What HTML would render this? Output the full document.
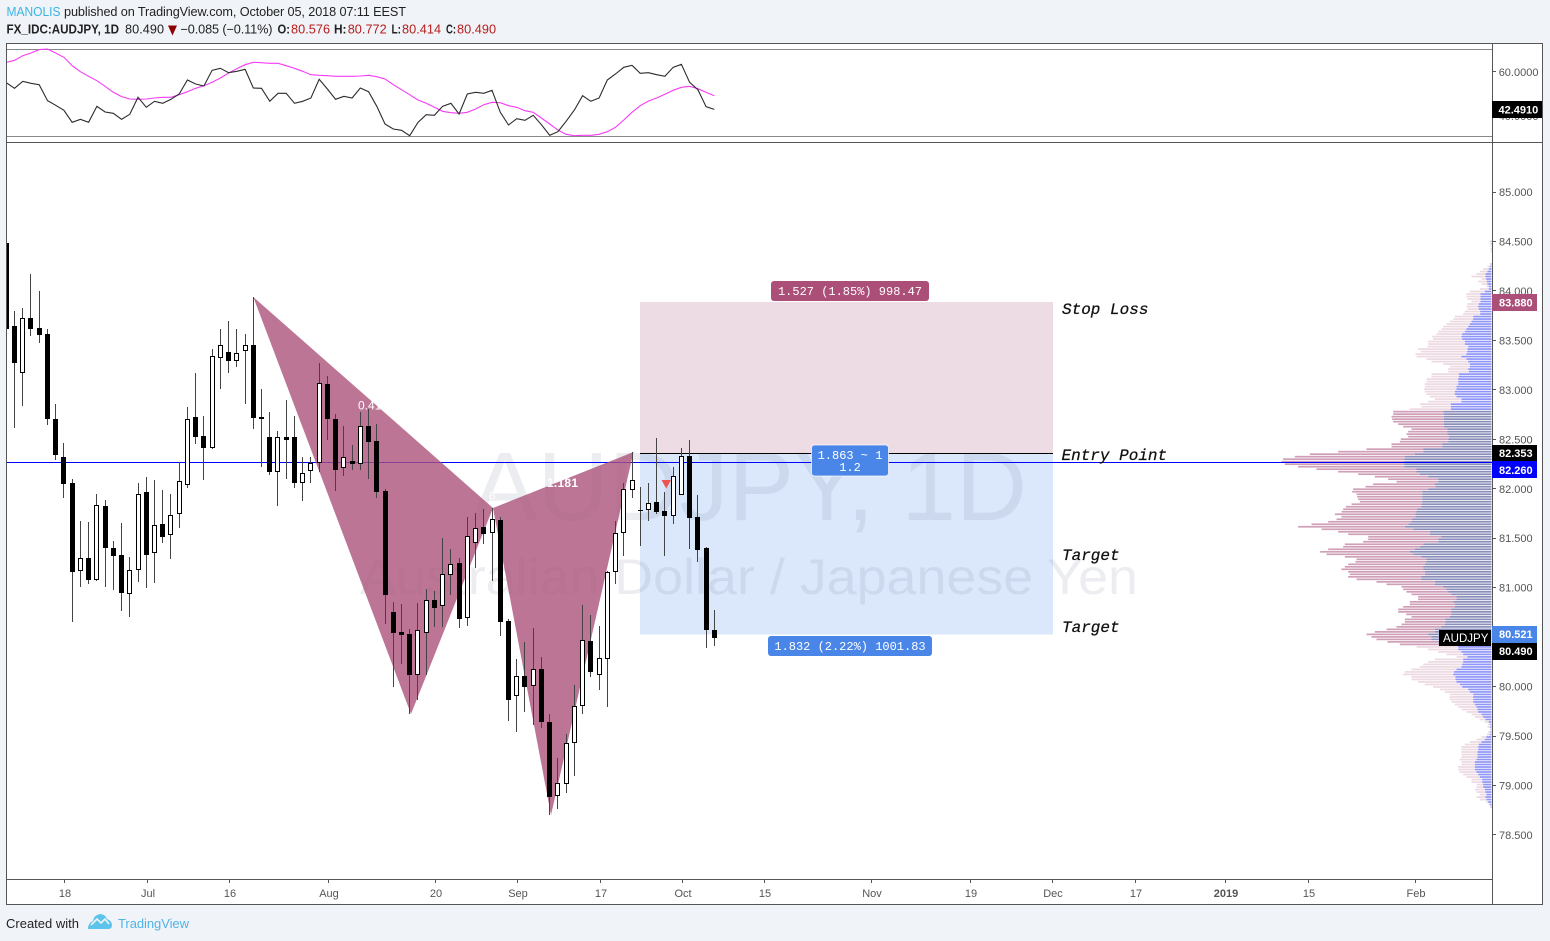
<!DOCTYPE html>
<html lang="en">
<head>
<meta charset="utf-8">
<title>AUDJPY 1D chart</title>
<style>
html,body{margin:0;padding:0;background:#f0f3f7;}
body{width:1550px;height:941px;overflow:hidden;}
svg{display:block;font-family:"Liberation Sans",Arial,sans-serif;}
.hd{font-size:12.7px;fill:#222;}
.num{fill:#b71c1c;}
.b{font-weight:bold;}
.rr{font-family:"Liberation Mono",monospace;font-size:12px;fill:#fff;text-anchor:middle;}
.note{font-family:"Liberation Mono",monospace;font-size:16px;font-style:italic;fill:#111;stroke:#111;stroke-width:0.25;}
.tick{font-size:11px;fill:#555;}
.tag{font-size:11px;font-weight:bold;fill:#fff;}
</style>
</head>
<body>
<svg id="chart" width="1550" height="941" viewBox="0 0 1550 941" xmlns="http://www.w3.org/2000/svg">
  <defs>
    <clipPath id="mainClip"><rect x="7" y="143" width="1485" height="736"/></clipPath>
    <clipPath id="rsiClip"><rect x="7" y="44" width="1485" height="98"/></clipPath>
  </defs>

  <rect x="0" y="0" width="1550" height="941" fill="#f0f3f7"/>

  <g>
    <text x="6.5" y="16" class="hd" style="fill:#3bb3e4" textLength="54" lengthAdjust="spacingAndGlyphs">MANOLIS</text>
    <text x="64" y="16" class="hd" textLength="342" lengthAdjust="spacing">published on TradingView.com, October 05, 2018 07:11 EEST</text>
  </g>
  <g>
    <text x="6.5" y="33.5" class="hd b" textLength="112.5" lengthAdjust="spacingAndGlyphs">FX_IDC:AUDJPY, 1D</text>
    <text x="125" y="33.5" class="hd" textLength="39" lengthAdjust="spacing">80.490</text>
    <polygon points="168,25.5 177,25.5 172.5,35.5" fill="#8b0000"/>
    <text x="180.5" y="33.5" class="hd" textLength="92" lengthAdjust="spacing">−0.085 (−0.11%)</text>
    <text x="277.5" y="33.5" class="hd b" textLength="12.5" lengthAdjust="spacingAndGlyphs">O:</text>
    <text x="291" y="33.5" class="hd num" textLength="39" lengthAdjust="spacing">80.576</text>
    <text x="334" y="33.5" class="hd b" textLength="12.5" lengthAdjust="spacingAndGlyphs">H:</text>
    <text x="347.7" y="33.5" class="hd num" textLength="39" lengthAdjust="spacing">80.772</text>
    <text x="391.5" y="33.5" class="hd b" textLength="9.5" lengthAdjust="spacingAndGlyphs">L:</text>
    <text x="402" y="33.5" class="hd num" textLength="39" lengthAdjust="spacing">80.414</text>
    <text x="446" y="33.5" class="hd b" textLength="10" lengthAdjust="spacingAndGlyphs">C:</text>
    <text x="457" y="33.5" class="hd num" textLength="39" lengthAdjust="spacing">80.490</text>
  </g>

  <rect x="6.5" y="43.5" width="1536" height="861" fill="#fff" stroke="#555" stroke-width="1"/>

  <g id="rsiPanel" clip-path="url(#rsiClip)"></g>

  <g>
    <text x="472" y="520" font-size="97" fill="rgb(120,130,150)" fill-opacity="0.14" textLength="555" lengthAdjust="spacingAndGlyphs">AUDJPY, 1D</text>
    <text x="360" y="594" font-size="50" fill="rgb(120,130,150)" fill-opacity="0.14" textLength="778" lengthAdjust="spacingAndGlyphs">Australian Dollar / Japanese Yen</text>
  </g>

  <g id="profile" clip-path="url(#mainClip)"></g>

  <g>
    <rect x="640" y="302" width="413" height="151.5" fill="#ab4e78" fill-opacity="0.2"/>
    <rect x="640" y="453.5" width="413" height="181" fill="#4a86e8" fill-opacity="0.2"/>
  </g>

  <line x1="7" x2="1492" y1="462.5" y2="462.5" stroke="#0000ff" stroke-width="1"/>

  <g>
    <polygon points="253.3,297 411,714 493,508" fill="rgb(171,82,122)" fill-opacity="0.8"/>
    <polygon points="493,508 551,815 633.5,452" fill="rgb(171,82,122)" fill-opacity="0.8"/>
    <text x="358" y="409.5" font-size="12" fill="#fff">0.41</text>
    <text x="547" y="487" font-size="12" fill="#fff" font-weight="bold" textLength="31" lengthAdjust="spacing">1.181</text>
    <text x="489" y="499" font-size="10" fill="#fff">B</text>
  </g>

  <line x1="640" x2="1053" y1="453.5" y2="453.5" stroke="#000" stroke-width="1"/>

  <g id="candles" clip-path="url(#mainClip)"></g>

  <polygon points="661.5,480 671,480 666.2,488.5" fill="#ef5350"/>

  <g>
    <rect x="771" y="281" width="158" height="20" rx="3" fill="#ab4e78"/>
    <text x="850" y="295" class="rr">1.527 (1.85%) 998.47</text>
  </g>
  <g>
    <rect x="811.5" y="445" width="77" height="31" rx="3" fill="#4a86e8" stroke="#fff" stroke-opacity="0.7"/>
    <text x="850" y="459" class="rr">1.863 ~ 1</text>
    <text x="850" y="471" class="rr">1.2</text>
  </g>
  <g>
    <rect x="768" y="636" width="164" height="20" rx="3" fill="#4a86e8"/>
    <text x="850" y="650" class="rr">1.832 (2.22%) 1001.83</text>
  </g>

  <text x="1062" y="314" class="note">Stop Loss</text>
  <text x="1061.5" y="460" class="note">Entry Point</text>
  <text x="1062" y="560" class="note">Target</text>
  <text x="1062" y="632" class="note">Target</text>

  <line x1="1492.5" x2="1492.5" y1="44" y2="904" stroke="#555"/>
  <line x1="7" x2="1542" y1="142.5" y2="142.5" stroke="#555"/>
  <line x1="7" x2="1492" y1="879.5" y2="879.5" stroke="#555"/>

  <g id="priceAxis"></g>
  <g id="rsiAxis"></g>
  <g id="timeAxis"></g>

  <g>
    <rect x="1492" y="101" width="50" height="17" fill="#000"/>
    <text x="1498.5" y="113.5" class="tag">42.4910</text>
  </g>
  <g>
    <rect x="1492" y="294" width="45" height="17" fill="#ab4e78"/>
    <text x="1499" y="306.5" class="tag">83.880</text>
  </g>
  <g>
    <rect x="1492" y="445" width="45" height="16" fill="#000"/>
    <text x="1499" y="457" class="tag">82.353</text>
  </g>
  <g>
    <rect x="1492" y="461" width="45" height="17" fill="#0000ff"/>
    <text x="1499" y="474" class="tag">82.260</text>
  </g>
  <g>
    <rect x="1492" y="626" width="45" height="17" fill="#4a86e8"/>
    <text x="1499" y="638" class="tag">80.521</text>
  </g>
  <g>
    <rect x="1492" y="643" width="45" height="17" fill="#000"/>
    <text x="1499" y="655" class="tag">80.490</text>
  </g>
  <g>
    <rect x="1439" y="630" width="52" height="16" fill="#000"/>
    <text x="1443" y="642" font-size="11.5" fill="#fff">AUDJPY</text>
  </g>

  <g>
    <text x="6" y="928" font-size="13" fill="#222" textLength="73" lengthAdjust="spacing">Created with</text>
    <g>
      <path d="M88 929 Q88 923 93 921 Q94 915 100 914 Q105 914 107 919 Q112 921 112 925 Q112 929 108 929 Z" fill="#5cc4ea"/>
      <path d="M91 925 L97 919 L101 923 L105 919 L109 924" fill="none" stroke="#f0f3f7" stroke-width="1.6"/>
    </g>
    <text x="118" y="928" font-size="13" fill="#4fb3e8" textLength="71" lengthAdjust="spacing">TradingView</text>
  </g>
</svg>

<script>
const opens = [
84.48,83.65,83.17,83.73,83.63,83.56,82.71,82.32,82.06,81.17,
81.30,81.08,81.83,81.40,81.33,80.94,81.18,81.97,81.35,81.64,
81.53,81.74,82.04,82.73,82.53,82.41,83.32,83.38,83.29,83.39,
83.45,82.71,82.52,82.17,82.52,82.52,82.06,82.18,82.26,83.06,
82.71,82.21,82.28,82.25,82.63,82.48,81.98,80.75,80.55,80.53,
80.12,80.54,80.88,80.81,81.13,81.25,80.69,81.45,81.61,81.55,
81.68,80.66,79.91,80.11,80.01,80.18,79.64,78.89,79.02,79.43,
79.80,80.46,80.12,80.28,81.16,81.55,81.99,81.79,81.79,81.87,
81.78,81.72,81.94,82.33,81.71,81.40,80.576];
const highs = [
84.49,83.80,83.83,84.17,84.00,83.62,82.86,82.46,82.10,81.67,
81.66,81.95,81.89,81.47,81.65,81.31,82.06,82.12,82.09,81.99,
81.95,82.27,82.83,83.17,82.74,83.41,83.62,83.70,83.62,83.56,
83.94,83.01,82.78,82.58,82.90,82.74,82.32,82.32,83.27,83.14,
82.76,82.63,82.44,82.78,82.81,82.65,82.00,80.86,80.83,80.58,
80.85,80.99,80.97,81.50,81.39,81.30,81.71,81.75,81.80,81.81,
81.71,80.68,80.28,80.45,80.59,80.30,79.72,79.28,79.52,80.02,
80.82,80.72,80.61,81.17,81.67,82.06,82.37,82.02,82.06,82.51,
81.97,82.22,82.41,82.49,81.94,81.41,80.772];
const lows = [
83.60,82.61,82.84,83.54,83.47,82.64,82.29,81.91,80.65,81.01,
81.04,81.07,81.01,80.98,80.76,80.70,81.06,81.00,81.05,81.45,
81.29,81.60,82.01,82.45,82.09,82.40,83.01,83.17,83.23,82.86,
82.60,82.22,82.14,81.83,82.10,82.01,81.88,82.06,82.17,82.49,
81.98,82.13,82.19,82.19,82.10,81.91,80.63,80.00,80.23,79.72,
79.86,80.12,80.60,80.60,80.93,80.59,80.61,81.20,81.44,81.07,
80.51,79.65,79.54,79.74,79.61,79.58,78.70,78.76,78.92,79.10,
79.72,80.10,79.97,79.79,81.04,81.32,81.91,81.42,81.67,81.74,
81.32,81.64,81.94,81.39,81.26,80.39,80.414];
const closes = [
83.62,83.27,83.73,83.62,83.55,82.71,82.34,82.05,81.16,81.30,
81.08,81.84,81.40,81.32,80.95,81.18,81.95,81.33,81.63,81.51,
81.73,82.08,82.71,82.52,82.41,83.34,83.45,83.29,83.37,83.45,
82.72,82.73,82.17,82.52,82.49,82.06,82.16,82.26,83.07,82.71,
82.19,82.32,82.25,82.63,82.47,81.97,80.93,80.54,80.52,80.12,
80.57,80.88,80.79,81.14,81.24,80.68,81.52,81.60,81.54,81.69,
80.65,79.86,80.11,80.00,80.18,79.64,78.88,79.03,79.43,79.80,
80.47,80.15,80.29,81.16,81.55,82.00,82.09,81.79,81.86,81.77,
81.72,82.13,82.33,81.70,81.38,80.57,80.49];

const rsiValues = [
54.73,52.14,55.34,54.43,53.82,46.50,44.36,42.07,36.58,37.95,
36.58,43.90,41.31,40.70,37.95,40.24,48.02,43.44,46.19,45.27,
47.11,49.55,55.95,54.12,53.21,60.38,61.29,59.31,59.92,60.84,
52.29,52.14,46.19,49.85,49.85,45.27,46.19,47.72,56.26,51.83,
47.11,48.48,47.72,52.29,50.61,43.90,35.82,33.53,32.92,30.48,
36.58,40.09,39.78,43.90,45.27,40.39,49.55,50.31,49.85,51.22,
41.16,35.36,38.26,37.49,39.78,35.51,30.63,32.31,37.04,42.22,
48.78,46.19,47.72,55.95,58.70,61.75,62.67,59.00,59.31,58.39,
57.63,61.75,63.12,54.89,51.53,43.75,42.49];
const rsiAverage = [
64.04,64.95,67.09,68.31,69.84,70.14,68.31,66.33,62.51,59.77,
57.63,55.65,53.05,50.31,48.33,47.26,47.11,47.26,47.72,48.02,
48.02,49.24,50.61,52.14,53.36,54.89,56.87,59.16,61.14,62.97,
64.04,63.89,63.58,63.58,62.51,61.29,59.92,58.39,58.09,57.94,
57.63,57.63,57.63,57.78,58.09,57.48,56.41,53.82,51.53,49.24,
46.80,45.27,43.44,41.61,41.00,40.70,41.16,42.68,44.66,45.73,
45.58,44.20,43.44,41.92,41.16,38.56,35.82,33.07,31.09,30.48,
30.63,30.63,31.09,32.31,34.29,37.65,41.16,44.20,46.34,47.72,
49.39,51.22,52.60,53.05,51.99,50.31,48.78];
const rsiLevels = [70,30];
const rsiTickValues = [60,40];

const profileTotals = [
4,4,3,3,3,0,0,0,0,
5,12,25,35,45,60,30,40,30,15,35,65,75,75,72,60,72,75,72,80,
85,110,115,125,135,145,150,160,165,178,175,190,190,192,220,212,228,225,195,180,
145,125,130,130,180,180,195,195,200,200,202,200,195,185,170,190,215,210,245,
295,295,300,298,295,280,265,240,250,255,250,272,275,300,300,375,460,545,590,625,
630,620,580,525,460,400,350,310,285,355,378,415,418,405,403,400,395,420,437,445,
450,470,450,465,490,540,580,510,460,430,370,
370,385,440,445,490,514,495,440,405,408,430,440,450,430,425,430,405,345,315,270,
265,255,240,220,220,245,245,265,280,280,256,240,260,260,270,285,315,350,375,360,
345,312,275,
225,190,160,135,105,170,190,205,215,240,260,265,240,240,220,200,175,155,140,125,
125,125,120,110,100,90,75,60,50,35,20,10,12,5,10,14,30,45,65,80,
90,90,90,90,90,96,90,90,100,100,96,85,75,60,60,45,45,50,45,35,45,35,15,8,4];
const profileUp = [
2,2,1,1,1,0,0,0,0,
2,4,8,12,18,18,16,14,12,8,8,20,33,33,33,33,38,40,38,34,
34,55,55,60,65,70,75,80,88,90,88,80,80,70,72,73,75,90,75,70,
65,65,70,68,98,98,100,100,100,105,105,110,110,105,90,90,122,122,122,
145,143,143,143,143,143,143,133,133,133,128,130,130,148,148,205,205,230,260,262,
262,262,262,225,225,215,190,160,160,170,168,190,208,208,208,208,208,210,210,222,
225,228,228,238,240,250,260,235,185,185,150,
160,160,205,215,230,245,235,210,195,195,200,205,205,200,200,210,210,170,170,145,
135,130,120,105,105,115,110,110,120,120,120,125,138,138,140,150,170,170,190,180,
180,160,130,
100,100,90,85,72,85,85,88,90,105,112,115,108,108,105,95,88,70,65,55,
55,55,55,50,45,42,40,30,25,18,8,4,4,2,3,5,15,20,30,38,
40,40,42,42,42,45,50,50,50,50,45,40,35,28,28,25,25,20,18,15,18,15,10,5,2];
const profileTopPrice = 84.5;
const profileRowStep = 0.0253;
const valueAreaHigh = 82.8;
const valueAreaLow = 80.41;

const priceTicks = [85,84.5,84,83.5,83,82.5,82,81.5,81,80.5,80,79.5,79,78.5];
const timeTickLabels = ['18','Jul','16','Aug','20','Sep','17','Oct','15','Nov','19','Dec','17','2019','15','Feb'];
const timeTickBars = [7,17,27,39,52,62,72,82,92,105,117,127,137,148,158,171];

const SVG_NS = 'http://www.w3.org/2000/svg';
function xOf(i){ return 6.3 + 8.233 * i; }
function yPrice(p){ return 192 + (85 - p) * 98.92; }
function yRsi(v){ return 49.3 + (70 - v) * 2.185; }
function xVol(v){ return 1491.5 - v / 3; }
function mk(tag, attrs, parent){
  const el = document.createElementNS(SVG_NS, tag);
  for (const k in attrs) el.setAttribute(k, attrs[k]);
  parent.appendChild(el);
  return el;
}

const rsiG = document.getElementById('rsiPanel');
rsiLevels.forEach(function(level){
  const el = mk('line', {x1:7, x2:1492, y1:Math.floor(yRsi(level))+0.5, y2:Math.floor(yRsi(level))+0.5, stroke:'#888', 'stroke-width':1}, rsiG);
  
  
});
function pointsFor(values){
  return values.map(function(v,i){ return xOf(i).toFixed(1) + ',' + yRsi(v).toFixed(1); }).join(' ');
}
const rsiAvgLine = mk('polyline', {points:pointsFor(rsiAverage), fill:'none', stroke:'#f53cf5', 'stroke-width':1.1}, rsiG);


const rsiLine = mk('polyline', {points:pointsFor(rsiValues), fill:'none', stroke:'#2b2b2b', 'stroke-width':1.1}, rsiG);



const profileG = document.getElementById('profile');
profileTotals.forEach(function(total, j){
  if (total <= 0) return;
  const price = profileTopPrice - j * profileRowStep;
  const inValue = price <= valueAreaHigh && price > valueAreaLow;
  const y = yPrice(price) - 0.85;
  const xTotal = xVol(total);
  const xUp = xVol(profileUp[j]);
  const down = mk('rect', {x:xTotal, y:y, width:Math.max(0, xUp - xTotal), height:1.7, fill: inValue ? '#cf9fb7' : '#ecd9e2'}, profileG);
  
  
  const up = mk('rect', {x:xUp, y:y, width:Math.max(0, 1491.5 - xUp), height:1.7, fill: inValue ? '#8a8eb9' : '#8f95f8'}, profileG);
  
  
});

const candleG = document.getElementById('candles');
closes.forEach(function(c, i){
  const o = opens[i];
  const col = Math.floor(xOf(i));
  const wickTop = Math.round(yPrice(highs[i]));
  const wickBottom = Math.round(yPrice(lows[i]));
  const top = Math.round(yPrice(Math.max(o, c)));
  const bottom = Math.round(yPrice(Math.min(o, c)));
  const rising = c >= o;
  const wick = mk('rect', {x:col, y:wickTop, width:1, height:Math.max(1, wickBottom - wickTop), fill:'#444'}, candleG);
  
  
  let body;
  if (rising && bottom - top >= 2) {
    body = mk('rect', {x:col - 1.5, y:top + 0.5, width:4, height:bottom - top - 1, fill:'#fff', stroke:'#000', 'stroke-width':1}, candleG);
  } else {
    body = mk('rect', {x:col - 2, y:top, width:5, height:Math.max(1, bottom - top), fill:'#000'}, candleG);
  }
  
  
});

const priceAxisG = document.getElementById('priceAxis');
priceTicks.forEach(function(p){
  const y = yPrice(p);
  const mark = mk('rect', {x:1493, y:Math.floor(y), width:3, height:1, fill:'#555'}, priceAxisG);
  
  
  const label = mk('text', {x:1499, y:y + 4, class:'tick'}, priceAxisG);
  label.textContent = p.toFixed(3);
  
  
});

const rsiAxisG = document.getElementById('rsiAxis');
rsiTickValues.forEach(function(v){
  const y = yRsi(v);
  const mark = mk('rect', {x:1493, y:Math.floor(y), width:3, height:1, fill:'#555'}, rsiAxisG);
  
  
  const label = mk('text', {x:1498.7, y:y + 5, class:'tick'}, rsiAxisG);
  label.textContent = v.toFixed(4);
  
  
});

const timeAxisG = document.getElementById('timeAxis');
timeTickLabels.forEach(function(text, k){
  const x = Math.floor(xOf(timeTickBars[k]) + 1);
  const mark = mk('rect', {x:x, y:880, width:1, height:3, fill:'#555'}, timeAxisG);
  
  
  const label = mk('text', {x:x + 1, y:897, 'text-anchor':'middle', class:'tick'}, timeAxisG);
  if (text === '2019') label.setAttribute('font-weight', 'bold');
  label.textContent = text;
  
  
});
</script>
</body>
</html>
